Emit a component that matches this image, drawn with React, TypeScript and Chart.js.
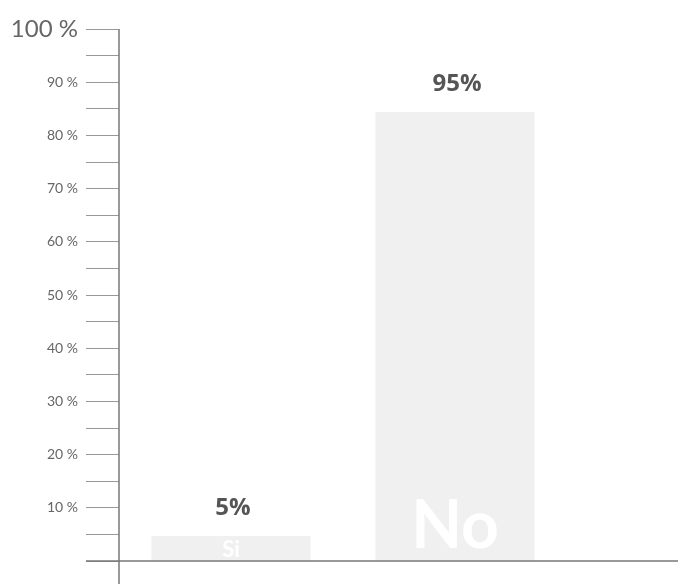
import { useEffect, useRef } from 'react';
import { Chart, registerables } from 'chart.js';

Chart.register(...registerables);

const categories = ['Si', 'No'];
const barValues = [4.7, 84.4];
const valueLabels = ['5%', '95%'];
const yMin = 0;
const yMax = 100;
const yStep = 5;

const innerFontSizes = [22, 66];
const innerOffsets = [4, 13];

export default function App() {
  const ref = useRef<HTMLCanvasElement>(null);

  useEffect(() => {
    document.body.style.margin = '0';
    const labelPlugin = {
      id: 'labels',
      afterDatasetsDraw(chart: any) {
        const ctx = chart.ctx;
        const meta = chart.getDatasetMeta(0);
        const { left, bottom } = chart.chartArea;
        ctx.save();
        meta.data.forEach((bar: any, i: number) => {
          ctx.textAlign = 'center';
          ctx.textBaseline = 'middle';
          ctx.fillStyle = '#555';
          ctx.font = 'bold 24px "Open Sans"';
          ctx.fillText(valueLabels[i], bar.x + 2, bar.y - 28);
          ctx.fillStyle = '#ffffff';
          ctx.textBaseline = 'alphabetic';
          ctx.font = `bold ${innerFontSizes[i]}px Lato`;
          ctx.fillText(categories[i], bar.x, bar.base - innerOffsets[i]);
        });
        // axes
        ctx.strokeStyle = '#777';
        ctx.lineWidth = 1.5;
        ctx.beginPath();
        ctx.moveTo(left, chart.chartArea.top);
        ctx.lineTo(left, chart.height);
        ctx.stroke();
        ctx.beginPath();
        ctx.moveTo(left - 33, bottom);
        ctx.lineTo(chart.width, bottom);
        ctx.stroke();
        ctx.restore();
      },
    };

    const chart = new Chart(ref.current!, {
      type: 'bar',
      data: {
        labels: categories,
        datasets: [
          {
            data: barValues,
            backgroundColor: '#f0f0f0',
            borderWidth: 0,
            barPercentage: 0.71,
            categoryPercentage: 1,
          },
        ],
      },
      options: {
        responsive: false,
        animation: false,
        layout: { padding: { top: 29, right: 111, bottom: 23, left: 0 } },
        plugins: { legend: { display: false }, tooltip: { enabled: false } },
        scales: {
          x: { display: false },
          y: {
            min: yMin,
            max: yMax,
            afterFit(scale: any) {
              scale.width = 119;
            },
            border: { display: false },
            grid: {
              drawOnChartArea: false,
              drawTicks: true,
              tickLength: 33,
              color: '#999',
              lineWidth: 1,
            },
            ticks: {
              stepSize: yStep,
              padding: 8,
              color: '#666',
              autoSkip: false,
              callback: (v: any) => (v % 10 === 0 && v !== 0 ? `${v} %` : ''),
              font: (c: any) =>
                c.tick && c.tick.value === 100
                  ? { family: 'Lato', size: 24 }
                  : { family: 'Lato', size: 14 },
            },
          },
        },
      },
      plugins: [labelPlugin],
    });
    return () => chart.destroy();
  }, []);

  return (
    <div style={{ width: 678, height: 584 }}>
      <canvas ref={ref} width={678} height={584} style={{ display: 'block' }} />
    </div>
  );
}
